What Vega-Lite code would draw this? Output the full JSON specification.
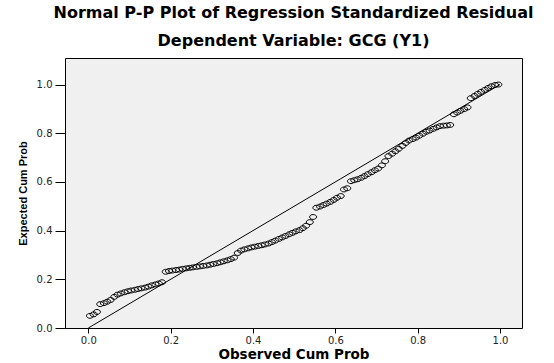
{
  "$schema": "https://vega.github.io/schema/vega-lite/v6.json",
  "width": 457,
  "height": 270,
  "autosize": {"type": "none"},
  "padding": {"left": 65, "top": 58, "right": 32, "bottom": 35},
  "background": "white",
  "title": {
    "text": "Normal P-P Plot of Regression Standardized Residual",
    "subtitle": "Dependent Variable: GCG (Y1)",
    "font": "DejaVu Sans", "fontSize": 16, "fontWeight": "bold", "color": "black",
    "subtitleFont": "DejaVu Sans", "subtitleFontSize": 16, "subtitleFontWeight": "bold", "subtitleColor": "black",
    "anchor": "middle", "offset": 9, "subtitlePadding": 12
  },
  "config": {
    "view": {"fill": "#f0f0f0", "stroke": "black", "strokeWidth": 1}
  },
  "data": {"values": [
    {"observed": 0.004, "expected": 0.050}, {"observed": 0.013, "expected": 0.056}, {"observed": 0.021, "expected": 0.066}, {"observed": 0.029, "expected": 0.098},
    {"observed": 0.038, "expected": 0.102}, {"observed": 0.046, "expected": 0.108}, {"observed": 0.054, "expected": 0.115}, {"observed": 0.063, "expected": 0.128},
    {"observed": 0.071, "expected": 0.137}, {"observed": 0.079, "expected": 0.142}, {"observed": 0.088, "expected": 0.147}, {"observed": 0.096, "expected": 0.151},
    {"observed": 0.104, "expected": 0.154}, {"observed": 0.113, "expected": 0.157}, {"observed": 0.121, "expected": 0.160}, {"observed": 0.129, "expected": 0.163},
    {"observed": 0.138, "expected": 0.166}, {"observed": 0.146, "expected": 0.170}, {"observed": 0.154, "expected": 0.175}, {"observed": 0.163, "expected": 0.179},
    {"observed": 0.171, "expected": 0.183}, {"observed": 0.179, "expected": 0.188}, {"observed": 0.188, "expected": 0.231}, {"observed": 0.196, "expected": 0.234},
    {"observed": 0.204, "expected": 0.236}, {"observed": 0.213, "expected": 0.238}, {"observed": 0.221, "expected": 0.240}, {"observed": 0.229, "expected": 0.243},
    {"observed": 0.238, "expected": 0.245}, {"observed": 0.246, "expected": 0.247}, {"observed": 0.254, "expected": 0.249}, {"observed": 0.263, "expected": 0.251},
    {"observed": 0.271, "expected": 0.253}, {"observed": 0.279, "expected": 0.255}, {"observed": 0.288, "expected": 0.257}, {"observed": 0.296, "expected": 0.260},
    {"observed": 0.304, "expected": 0.263}, {"observed": 0.313, "expected": 0.266}, {"observed": 0.321, "expected": 0.270}, {"observed": 0.329, "expected": 0.274},
    {"observed": 0.338, "expected": 0.278}, {"observed": 0.346, "expected": 0.283}, {"observed": 0.354, "expected": 0.289}, {"observed": 0.363, "expected": 0.308},
    {"observed": 0.371, "expected": 0.318}, {"observed": 0.379, "expected": 0.323}, {"observed": 0.388, "expected": 0.327}, {"observed": 0.396, "expected": 0.331},
    {"observed": 0.404, "expected": 0.334}, {"observed": 0.413, "expected": 0.337}, {"observed": 0.421, "expected": 0.340}, {"observed": 0.429, "expected": 0.343},
    {"observed": 0.438, "expected": 0.347}, {"observed": 0.446, "expected": 0.353}, {"observed": 0.454, "expected": 0.359}, {"observed": 0.463, "expected": 0.366},
    {"observed": 0.471, "expected": 0.372}, {"observed": 0.479, "expected": 0.378}, {"observed": 0.488, "expected": 0.385}, {"observed": 0.496, "expected": 0.391},
    {"observed": 0.504, "expected": 0.397}, {"observed": 0.513, "expected": 0.402}, {"observed": 0.521, "expected": 0.410}, {"observed": 0.529, "expected": 0.420},
    {"observed": 0.538, "expected": 0.435}, {"observed": 0.546, "expected": 0.456}, {"observed": 0.554, "expected": 0.494}, {"observed": 0.563, "expected": 0.499},
    {"observed": 0.571, "expected": 0.505}, {"observed": 0.579, "expected": 0.511}, {"observed": 0.588, "expected": 0.518}, {"observed": 0.596, "expected": 0.526},
    {"observed": 0.604, "expected": 0.535}, {"observed": 0.613, "expected": 0.542}, {"observed": 0.621, "expected": 0.569}, {"observed": 0.629, "expected": 0.574},
    {"observed": 0.638, "expected": 0.603}, {"observed": 0.646, "expected": 0.607}, {"observed": 0.654, "expected": 0.611}, {"observed": 0.663, "expected": 0.617},
    {"observed": 0.671, "expected": 0.624}, {"observed": 0.679, "expected": 0.632}, {"observed": 0.688, "expected": 0.640}, {"observed": 0.696, "expected": 0.648},
    {"observed": 0.704, "expected": 0.655}, {"observed": 0.713, "expected": 0.668}, {"observed": 0.721, "expected": 0.685}, {"observed": 0.729, "expected": 0.706},
    {"observed": 0.738, "expected": 0.716}, {"observed": 0.746, "expected": 0.726}, {"observed": 0.754, "expected": 0.736}, {"observed": 0.763, "expected": 0.748},
    {"observed": 0.771, "expected": 0.760}, {"observed": 0.779, "expected": 0.770}, {"observed": 0.788, "expected": 0.776}, {"observed": 0.796, "expected": 0.782},
    {"observed": 0.804, "expected": 0.790}, {"observed": 0.813, "expected": 0.798}, {"observed": 0.821, "expected": 0.806}, {"observed": 0.829, "expected": 0.811},
    {"observed": 0.838, "expected": 0.818}, {"observed": 0.846, "expected": 0.824}, {"observed": 0.854, "expected": 0.829}, {"observed": 0.863, "expected": 0.831},
    {"observed": 0.871, "expected": 0.832}, {"observed": 0.879, "expected": 0.834}, {"observed": 0.888, "expected": 0.878}, {"observed": 0.896, "expected": 0.885},
    {"observed": 0.904, "expected": 0.892}, {"observed": 0.913, "expected": 0.899}, {"observed": 0.921, "expected": 0.906}, {"observed": 0.929, "expected": 0.944},
    {"observed": 0.938, "expected": 0.953}, {"observed": 0.946, "expected": 0.962}, {"observed": 0.954, "expected": 0.970}, {"observed": 0.963, "expected": 0.978},
    {"observed": 0.971, "expected": 0.986}, {"observed": 0.979, "expected": 0.993}, {"observed": 0.988, "expected": 0.998}, {"observed": 0.996, "expected": 1.000}
  ]},
  "layer": [
    {
      "data": {"values": [{"observed": 0, "expected": 0}, {"observed": 1, "expected": 1}]},
      "mark": {"type": "line", "color": "black", "strokeWidth": 1},
      "encoding": {
        "x": {"field": "observed", "type": "quantitative"},
        "y": {"field": "expected", "type": "quantitative"}
      }
    },
    {
      "mark": {"type": "point", "shape": "M -1 0 A 1 0.7 0 1 1 1 0 A 1 0.7 0 1 1 -1 0 Z", "size": 49, "filled": false, "stroke": "black", "strokeWidth": 1, "opacity": 1},
      "encoding": {
        "x": {
          "field": "observed", "type": "quantitative",
          "scale": {"domain": [-0.0566, 1.0534], "nice": false, "zero": false},
          "axis": {
            "title": "Observed Cum Prob", "values": [0, 0.2, 0.4, 0.6, 0.8, 1.0], "format": ".1f",
            "grid": false, "domain": false, "tickSize": 5, "tickColor": "black",
            "labelFont": "DejaVu Sans", "labelFontSize": 10, "labelColor": "#222", "labelPadding": 2,
            "titleFont": "DejaVu Sans", "titleFontSize": 13.5, "titleFontWeight": "bold", "titleColor": "black", "titlePadding": 2.5
          }
        },
        "y": {
          "field": "expected", "type": "quantitative",
          "scale": {"domain": [0, 1.109], "nice": false, "zero": false},
          "axis": {
            "title": "Expected Cum Prob", "values": [0, 0.2, 0.4, 0.6, 0.8, 1.0], "format": ".1f",
            "grid": false, "domain": false, "tickSize": 10, "tickColor": "black",
            "labelFont": "DejaVu Sans", "labelFontSize": 10, "labelColor": "#222", "labelPadding": 3,
            "titleFont": "Liberation Sans", "titleFontSize": 11, "titleFontWeight": "bold", "titleColor": "black", "titlePadding": 8
          }
        }
      }
    }
  ]
}
